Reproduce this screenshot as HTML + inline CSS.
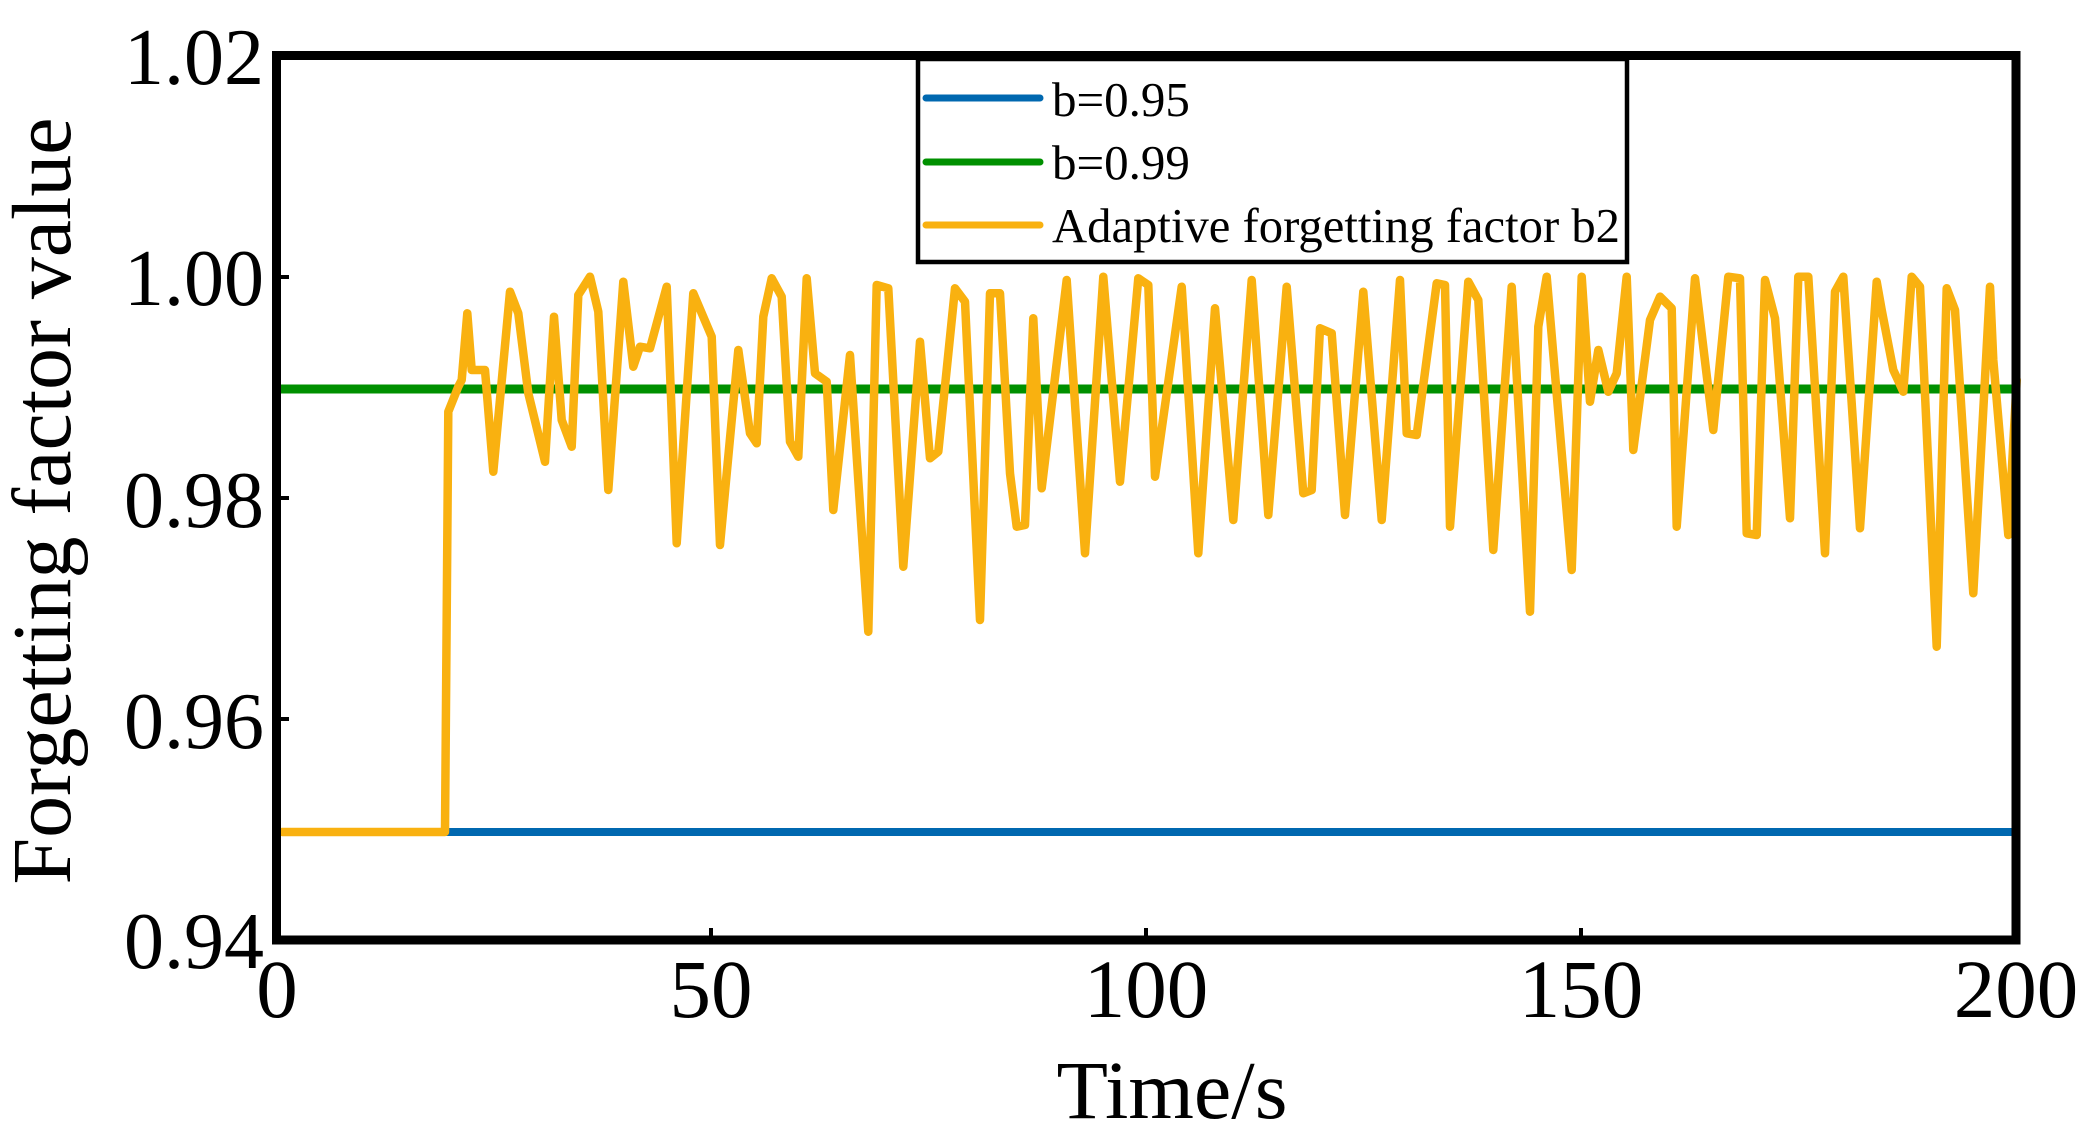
<!DOCTYPE html>
<html><head><meta charset="utf-8"><style>
html,body{margin:0;padding:0;background:#fff;}
svg{display:block;}
text{font-family:"Liberation Serif","Times New Roman",serif;fill:#000;}
</style></head><body>
<svg id="s" width="2092" height="1137" viewBox="0 0 2092 1137" xmlns="http://www.w3.org/2000/svg">
<rect width="2092" height="1137" fill="#fff"/>
<line x1="281" y1="832" x2="2014" y2="832" stroke="#0068b0" stroke-width="8"/>
<line x1="281" y1="389" x2="2014" y2="389" stroke="#009000" stroke-width="9"/>
<path id="orange" d="" fill="none" stroke="#f9b110" stroke-width="8.5" stroke-linejoin="round" stroke-linecap="round"/>
<rect x="276.5" y="55.5" width="1739.5" height="884.5" fill="none" stroke="#000" stroke-width="9"/>
<g stroke="#000" stroke-width="4">
<line x1="711" y1="936" x2="711" y2="928"/>
<line x1="1146" y1="936" x2="1146" y2="928"/>
<line x1="1581" y1="936" x2="1581" y2="928"/>
<line x1="281" y1="277" x2="289" y2="277"/>
<line x1="281" y1="498" x2="289" y2="498"/>
<line x1="281" y1="719" x2="289" y2="719"/>
</g>
<rect x="918" y="59" width="709" height="203" fill="#fff" stroke="#000" stroke-width="4.5"/>
<g stroke-width="7" stroke-linecap="round">
<line x1="926" y1="98" x2="1040" y2="98" stroke="#0068b0"/>
<line x1="926" y1="162" x2="1040" y2="162" stroke="#009000"/>
<line x1="926" y1="225" x2="1040" y2="225" stroke="#f9b110"/>
</g>
<g font-size="49">
<text x="1052" y="116">b=0.95</text>
<text x="1052" y="179">b=0.99</text>
<text x="1052" y="242" textLength="568" lengthAdjust="spacingAndGlyphs">Adaptive forgetting factor b2</text>
</g>
<g font-size="80" text-anchor="end">
<text x="264" y="84">1.02</text>
<text x="264" y="305">1.00</text>
<text x="264" y="527">0.98</text>
<text x="264" y="748">0.96</text>
<text x="264" y="968">0.94</text>
</g>
<g font-size="83" text-anchor="middle">
<text x="277" y="1017">0</text>
<text x="711" y="1017">50</text>
<text x="1146" y="1017">100</text>
<text x="1581" y="1017">150</text>
<text x="2016" y="1017">200</text>
</g>
<text x="1172" y="1118" font-size="83" text-anchor="middle" textLength="231" lengthAdjust="spacingAndGlyphs">Time/s</text>
<text transform="translate(70,501) rotate(-90)" font-size="84" text-anchor="middle" textLength="767" lengthAdjust="spacingAndGlyphs">Forgetting factor value</text>
</svg>
<script>
var z7=[[45,1707],[55,455],[85,380],[95,360],[112,160],[125,330],[165,330],[190,635],[240,95],[265,160],[295,400],[345,605],[372,170],[395,480],[425,560],[445,105],[480,50],[505,155],[535,690],[580,65],[610,320],[630,260],[660,265],[710,80],[740,850],[790,100],[845,230],[870,855],[925,270],[960,520],[980,550],[1000,170],[1025,55],[1055,110],[1080,545],[1105,590],[1130,55],[1155,340],[1190,365],[1210,750],[1260,285],[1315,1115],[1340,75],[1375,85],[1420,920]];
var z8=[[60,245],[90,595],[115,575],[165,85],[195,125],[240,1080],[270,100],[300,100],[330,640],[350,800],[375,795],[400,175],[425,685],[500,60],[555,880],[610,50],[660,665],[715,55],[745,75],[765,650],[845,80],[895,880],[945,145],[1000,780],[1055,60],[1105,765],[1160,80],[1210,700],[1235,690],[1260,205],[1295,220],[1335,765],[1390,95]];
var z9=[[35,780],[90,60],[110,520],[140,525],[200,70],[225,75],[240,800],[295,65],[325,120],[370,870],[425,80],[480,1055],[505,200],[530,50],[605,930],[635,50],[660,425],[685,270],[715,395],[740,340],[770,50],[790,570],[840,180],[870,110],[905,145],[920,800],[975,55],[1030,510],[1075,50],[1110,55],[1130,820],[1160,825],[1185,60],[1215,175],[1260,775],[1285,50],[1315,50],[1365,880],[1395,95],[1420,50]];
var z10=[[60,805],[110,65],[125,150],[160,330],[190,395],[215,50],[240,80],[290,1160],[320,85],[345,150],[400,1000],[450,80],[460,300],[505,825],[530,360]];
var pts=[[282,832]];
function add(a,bx){a.forEach(function(p){pts.push([bx+p[0]/3,260+p[1]/3]);});}
add(z7,430);add(z8,900);add(z9,1370);add(z10,1840);
pts[1][1]=832;
var d="M"+pts.map(function(p){return p[0].toFixed(1)+","+p[1].toFixed(1);}).join(" L");
document.getElementById("orange").setAttribute("d",d);
</script>
</body></html>
